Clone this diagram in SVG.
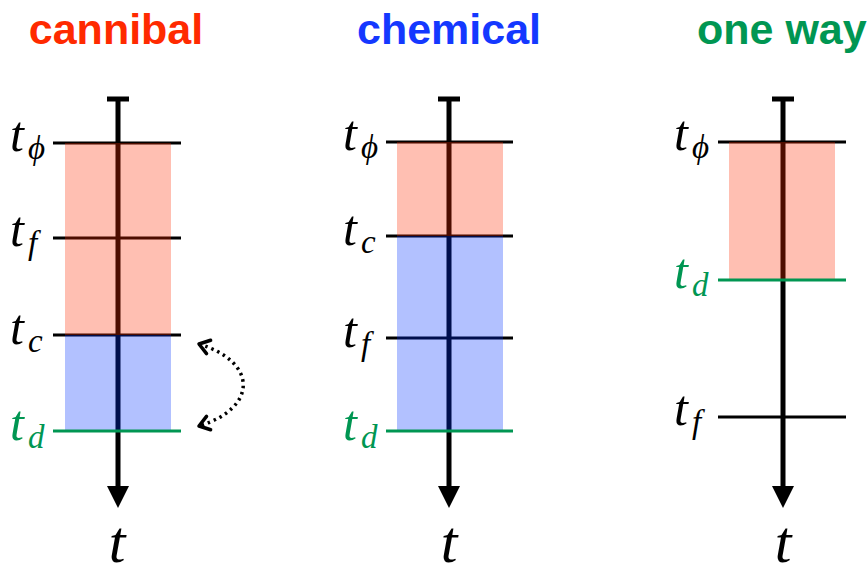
<svg xmlns="http://www.w3.org/2000/svg" width="867" height="566" viewBox="0 0 867 566">
<style>
.title{font-family:"Liberation Sans",Arial,sans-serif;font-weight:bold;font-size:43px}
.lbl{font-family:"Liberation Serif","DejaVu Serif",serif;font-style:italic;font-size:50px;fill:#000}
.sub{font-size:33px}
.big{font-family:"Liberation Serif","DejaVu Serif",serif;font-style:italic;font-size:60px;fill:#000}
.axis{stroke:#000;stroke-width:5;fill:none}
.tick{stroke:#000;stroke-width:3}
.tickd{stroke:#009652;stroke-width:3}
.red{fill:#FF2A00;fill-opacity:0.3}
.blue{fill:#0033FF;fill-opacity:0.3}
.green{fill:#009652}
</style>
<defs>
<marker id="chev" markerUnits="userSpaceOnUse" markerWidth="20" markerHeight="20" refX="0" refY="0" viewBox="-12 -10 14 20" orient="auto-start-reverse" overflow="visible">
<path d="M-10,-7 L0,0 L-10,7" fill="none" stroke="#000" stroke-width="3.5" stroke-linecap="round" stroke-linejoin="round"/>
</marker>
</defs>

<g id="cannibal">
<text class="title" x="116" y="44" text-anchor="middle" fill="#FF2A00">cannibal</text>
<line class="axis" x1="118" y1="99" x2="118" y2="488"/>
<line class="axis" x1="107" y1="99" x2="129" y2="99"/>
<polygon points="107,486 129,486 118,508" fill="#000"/>
<line class="tick" x1="53" y1="143" x2="181" y2="143"/>
<line class="tick" x1="53" y1="238" x2="181" y2="238"/>
<line class="tick" x1="53" y1="335" x2="181" y2="335"/>
<rect class="red" x="65" y="143" width="106" height="192"/>
<rect class="blue" x="65" y="335" width="106" height="96"/>
<line class="tickd" x1="53" y1="431" x2="181" y2="431"/>
<text class="lbl" x="10" y="151">t<tspan class="sub" dx="4" dy="8">ϕ</tspan></text>
<text class="lbl" x="10" y="246">t<tspan class="sub" dx="4" dy="8">f</tspan></text>
<text class="lbl" x="10" y="344">t<tspan class="sub" dx="4" dy="8">c</tspan></text>
<text class="lbl green" x="10" y="440">t<tspan class="sub" dx="4" dy="8">d</tspan></text>
<text class="big" x="117" y="562" text-anchor="middle">t</text>
</g>

<g id="chemical">
<text class="title" x="449" y="44" text-anchor="middle" fill="#1438FF">chemical</text>
<line class="axis" x1="449" y1="99" x2="449" y2="488"/>
<line class="axis" x1="438" y1="99" x2="460" y2="99"/>
<polygon points="438,486 460,486 449,508" fill="#000"/>
<line class="tick" x1="386" y1="142" x2="513" y2="142"/>
<line class="tick" x1="386" y1="236" x2="513" y2="236"/>
<line class="tick" x1="386" y1="338" x2="513" y2="338"/>
<rect class="red" x="397" y="142" width="106" height="94"/>
<rect class="blue" x="397" y="236" width="106" height="195"/>
<line class="tickd" x1="386" y1="431" x2="513" y2="431"/>
<text class="lbl" x="343" y="150">t<tspan class="sub" dx="4" dy="8">ϕ</tspan></text>
<text class="lbl" x="343" y="245">t<tspan class="sub" dx="4" dy="8">c</tspan></text>
<text class="lbl" x="343" y="347">t<tspan class="sub" dx="4" dy="8">f</tspan></text>
<text class="lbl green" x="343" y="440">t<tspan class="sub" dx="4" dy="8">d</tspan></text>
<text class="big" x="449" y="562" text-anchor="middle">t</text>
</g>

<g id="oneway">
<text class="title" x="697" y="44" fill="#009652">one way</text>
<line class="axis" x1="783" y1="99" x2="783" y2="488"/>
<line class="axis" x1="772" y1="99" x2="794" y2="99"/>
<polygon points="772,486 794,486 783,508" fill="#000"/>
<line class="tick" x1="718" y1="142" x2="846" y2="142"/>
<line class="tick" x1="718" y1="417" x2="846" y2="417"/>
<rect class="red" x="729" y="142" width="106" height="138"/>
<line class="tickd" x1="718" y1="280" x2="846" y2="280"/>
<text class="lbl" x="674" y="150">t<tspan class="sub" dx="4" dy="8">ϕ</tspan></text>
<text class="lbl green" x="674" y="288">t<tspan class="sub" dx="4" dy="8">d</tspan></text>
<text class="lbl" x="674" y="425">t<tspan class="sub" dx="4" dy="8">f</tspan></text>
<text class="big" x="783" y="562" text-anchor="middle">t</text>
</g>

<g id="connectors">
<path d="M199,344 C258,362 258,408 199,426" fill="none" stroke="#000" stroke-width="3.5" stroke-dasharray="2.5 4" marker-start="url(#chev)" marker-end="url(#chev)"/>
</g>
</svg>
